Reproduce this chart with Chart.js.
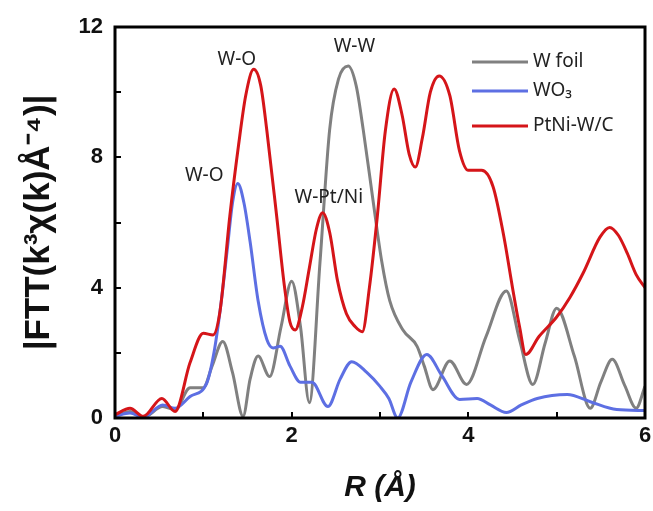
<!DOCTYPE html>
<html><head><meta charset="utf-8">
<script src="https://cdn.jsdelivr.net/npm/chart.js@4/dist/chart.umd.min.js"></script>
<style>html,body{margin:0;padding:0;background:#fff;}#wrap{width:653px;height:511px;position:relative;}</style>
</head><body><div id="wrap"><canvas id="c" width="653" height="511"></canvas></div>
<script>
// ---- data ----
const seriesNames = ['W foil', 'WO₃', 'PtNi-W/C'];

const rFoil = [0,0.17,0.32,0.54,0.68,0.85,1.0,1.1,1.22,1.33,1.45,1.53,1.62,1.75,1.88,2.0,2.1,2.2,2.32,2.43,2.53,2.64,2.73,2.81,2.92,3.02,3.11,3.26,3.42,3.5,3.6,3.79,3.98,4.2,4.43,4.58,4.73,4.87,5.0,5.2,5.38,5.5,5.63,5.77,5.9,6.0];
const vFoil = [0.05,0.2,0.02,0.35,0.25,0.93,0.93,1.6,2.35,1.4,0.05,1.2,1.9,1.27,2.8,4.2,2.8,0.47,4.75,8.85,10.4,10.8,10.2,8.85,6.7,4.8,3.6,2.7,2.2,1.6,0.87,1.75,1.03,2.5,3.9,2.4,1.03,2.3,3.37,1.9,0.3,1.1,1.8,1.0,0.3,0.97];

const rWO3 = [0,0.17,0.32,0.54,0.68,0.85,1.04,1.12,1.19,1.27,1.33,1.39,1.46,1.53,1.62,1.72,1.79,1.87,1.98,2.1,2.23,2.41,2.55,2.68,2.85,3.0,3.1,3.2,3.35,3.53,3.7,3.9,4.1,4.25,4.43,4.6,4.78,5.12,5.38,5.68,6.0];
const vWO3 = [0.05,0.15,0.02,0.4,0.3,0.66,1.08,2.0,3.3,5.15,6.6,7.2,6.6,5.4,3.6,2.4,2.15,2.2,1.6,1.1,1.1,0.35,1.2,1.73,1.4,0.97,0.6,0.0,1.1,1.95,1.3,0.57,0.6,0.4,0.17,0.4,0.6,0.72,0.5,0.26,0.23];

const rPtNi = [0,0.17,0.32,0.53,0.68,0.85,1.0,1.11,1.19,1.3,1.4,1.48,1.57,1.65,1.72,1.83,1.92,1.98,2.04,2.12,2.2,2.28,2.35,2.43,2.52,2.62,2.72,2.8,2.88,2.97,3.06,3.16,3.25,3.33,3.4,3.48,3.57,3.67,3.79,3.9,4.0,4.15,4.28,4.4,4.5,4.58,4.65,4.8,5.0,5.15,5.3,5.49,5.6,5.7,5.8,5.9,6.0];
const vPtNi = [0.1,0.3,0.05,0.6,0.2,1.7,2.6,2.55,3.3,6.2,8.4,9.9,10.7,10.2,8.8,6.2,4.0,2.95,2.7,3.4,4.6,5.8,6.3,5.7,4.2,3.2,2.8,2.65,4.0,6.2,8.8,10.1,9.3,8.1,7.7,8.6,10.0,10.5,9.9,8.2,7.6,7.6,7.1,5.6,4.0,2.8,1.95,2.5,3.1,3.7,4.45,5.55,5.85,5.6,5.05,4.4,4.0];

const xTickLabels = [0, 2, 4, 6];
const yTickLabels = [0, 4, 8, 12];

const peakLabels = ['W-O', 'W-O', 'W-W', 'W-Pt/Ni'];
const peakLabelR = [1.38, 1.01, 2.71, 2.42];
const peakLabelV = [11.0, 7.45, 11.4, 6.75];

const colors = ['#808080', '#5d6fe3', '#d51519'];

function pts(rs, vs) { return rs.map((r, i) => ({ x: r, y: vs[i] })); }

const frameAndTicks = {
  id: 'frameAndTicks',
  afterDatasetsDraw(chart) {
    const { ctx, chartArea: a, scales: { x, y } } = chart;
    ctx.save();
    ctx.strokeStyle = '#000';
    ctx.lineWidth = 2;
    x.ticks.forEach(t => {
      const px = Math.round(x.getPixelForValue(t.value));
      ctx.beginPath(); ctx.moveTo(px, a.bottom); ctx.lineTo(px, a.bottom - 6); ctx.stroke();
    });
    y.ticks.forEach(t => {
      const py = Math.round(y.getPixelForValue(t.value));
      ctx.beginPath(); ctx.moveTo(a.left, py); ctx.lineTo(a.left + 6, py); ctx.stroke();
    });
    ctx.lineWidth = 3;
    ctx.strokeRect(a.left, a.top, a.right - a.left, a.bottom - a.top);

    ctx.fillStyle = '#222';
    ctx.font = '19px "Noto Sans", "Liberation Sans", sans-serif';
    ctx.textAlign = 'center';
    ctx.textBaseline = 'middle';
    peakLabels.forEach((s, i) => {
      ctx.fillText(s, x.getPixelForValue(peakLabelR[i]), y.getPixelForValue(peakLabelV[i]));
    });

    ctx.textAlign = 'left';
    const rowsY = [a.top + 35, a.top + 64, a.top + 99];
    [0, 1, 2].forEach((di, k) => {
      const ds = chart.data.datasets[di];
      const ly = rowsY[k];
      ctx.strokeStyle = ds.borderColor;
      ctx.lineWidth = 3;
      ctx.beginPath(); ctx.moveTo(a.right - 173, ly); ctx.lineTo(a.right - 117, ly); ctx.stroke();
      ctx.fillStyle = '#222';
      ctx.fillText(ds.label, a.right - 112, ly);
    });
    ctx.restore();
  }
};

new Chart(document.getElementById('c'), {
  type: 'line',
  data: {
    datasets: [
      { label: seriesNames[0], data: pts(rFoil, vFoil), borderColor: colors[0], order: 3 },
      { label: seriesNames[1], data: pts(rWO3, vWO3), borderColor: colors[1], order: 2 },
      { label: seriesNames[2], data: pts(rPtNi, vPtNi), borderColor: colors[2], order: 1 }
    ].map(d => Object.assign(d, { borderWidth: 3, pointRadius: 0, fill: false, cubicInterpolationMode: 'monotone', borderJoinStyle: 'round' }))
  },
  options: {
    responsive: false,
    animation: false,
    devicePixelRatio: 1,
    layout: { padding: { top: 27, right: 8, left: 0, bottom: 0 } },
    plugins: { legend: { display: false }, tooltip: { enabled: false } },
    scales: {
      x: {
        type: 'linear', min: 0, max: 6,
        grid: { display: false, drawTicks: false },
        border: { display: false },
        ticks: {
          stepSize: 1, padding: 5, color: '#111',
          font: { family: '"Liberation Sans", Arial, sans-serif', size: 22, weight: 'bold' },
          callback: v => xTickLabels.includes(v) ? String(v) : ''
        },
        title: {
          display: true, text: 'R (Å)', color: '#111',
          font: { family: '"Liberation Sans", Arial, sans-serif', size: 30, weight: 'bold', style: 'italic' },
          padding: { top: 0, bottom: 5 }
        },
        afterFit(s) { s.height = 93; s.paddingLeft = 0; s.paddingRight = 0; }
      },
      y: {
        type: 'linear', min: 0, max: 12,
        grid: { display: false, drawTicks: false },
        border: { display: false },
        ticks: {
          stepSize: 2, padding: 12, color: '#111',
          font: { family: '"Liberation Sans", Arial, sans-serif', size: 22, weight: 'bold' },
          callback: v => yTickLabels.includes(v) ? String(v) : ''
        },
        title: {
          display: true, text: '|FTT(k³χ(k)Å⁻⁴)|', color: '#111',
          font: { family: '"Liberation Sans", Arial, sans-serif', size: 35, weight: 'bold' },
          padding: { top: 18, bottom: 0 }
        },
        afterFit(s) { s.width = 115; s.paddingTop = 0; s.paddingBottom = 0; }
      }
    }
  },
  plugins: [frameAndTicks]
});
</script></body></html>
